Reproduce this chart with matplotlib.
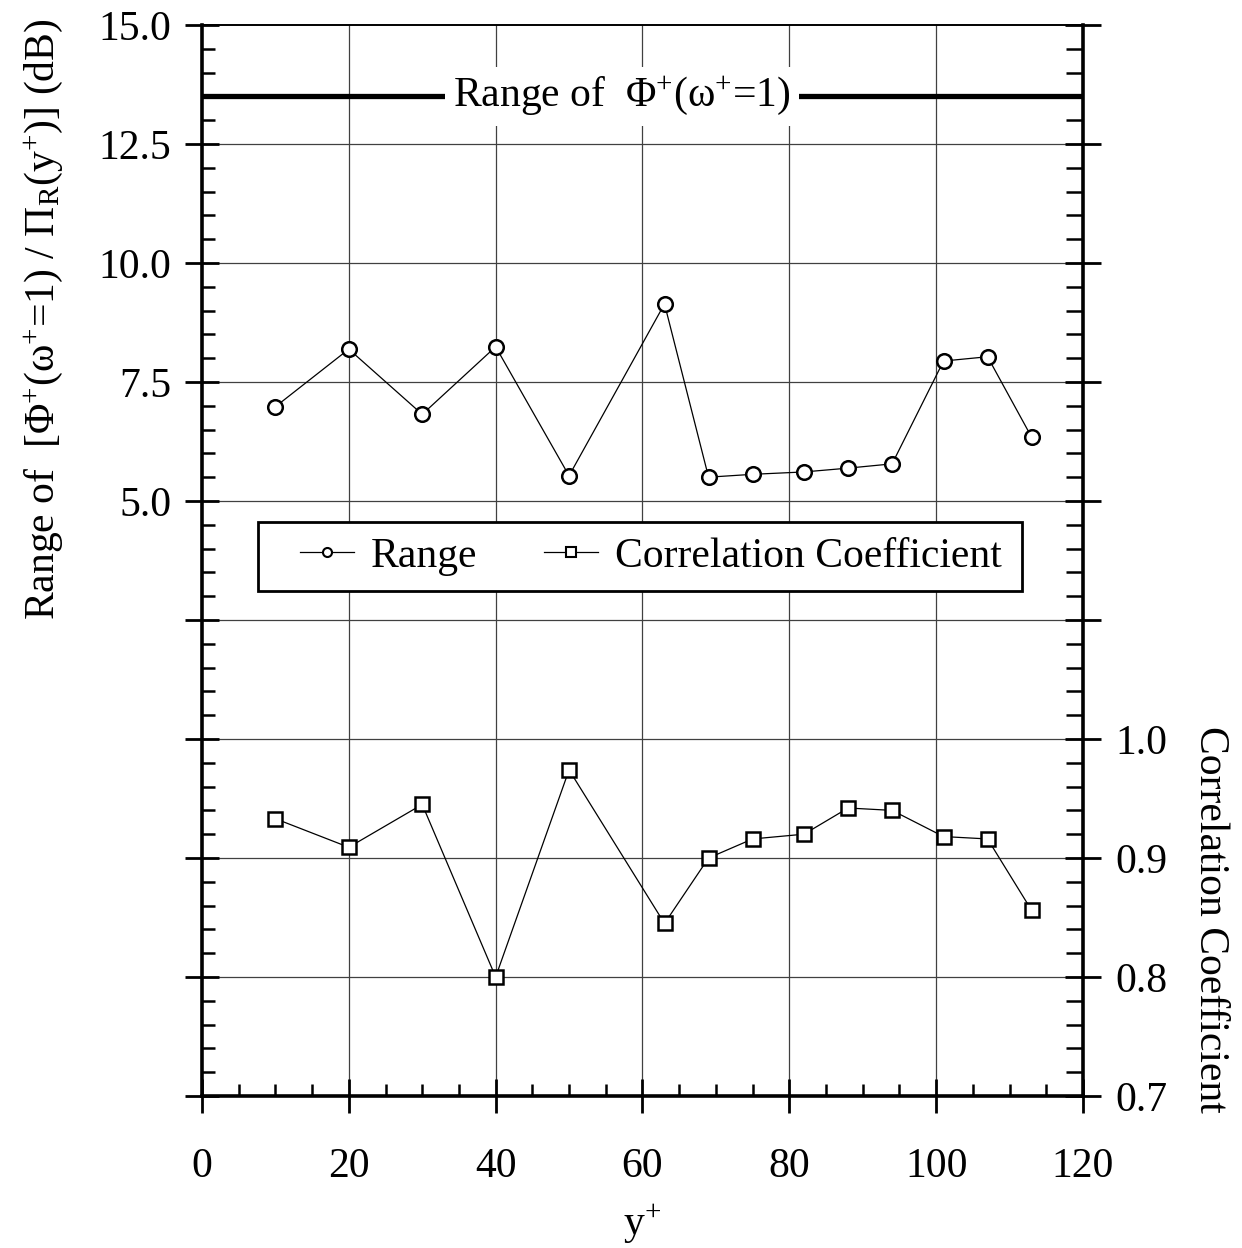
import matplotlib
matplotlib.use("Agg")
import matplotlib.pyplot as plt
from matplotlib.ticker import MultipleLocator
from matplotlib.lines import Line2D
from matplotlib.patches import Rectangle

plt.rcParams['font.family'] = ['Liberation Serif', 'DejaVu Serif']
plt.rcParams['mathtext.fontset'] = 'custom'
plt.rcParams['mathtext.rm'] = 'Liberation Serif'
plt.rcParams['mathtext.it'] = 'Liberation Serif:italic'
plt.rcParams['mathtext.default'] = 'rm'

# ---- data ----
y_plus = [10, 20, 30, 40, 50, 63, 69, 75, 82, 88, 94, 101, 107, 113]
range_db = [6.98, 8.19, 6.82, 8.24, 5.53, 9.14, 5.50, 5.56, 5.61, 5.69, 5.78, 7.94, 8.03, 6.34]
corr_coef = [0.933, 0.909, 0.945, 0.800, 0.974, 0.845, 0.900, 0.916, 0.920, 0.942, 0.940, 0.918, 0.916, 0.856]
phi_range_level = 13.5
x_ticks = [0, 20, 40, 60, 80, 100, 120]

fs = 30
fig = plt.figure(figsize=(12.42, 12.48), dpi=100)
ax = fig.add_axes([0.1626, 0.1218, 0.7094, 0.8582])
ax.set_xlim(0, 120)
ax.set_ylim(-7.5, 15)

ax2 = ax.twinx()
ax2.set_ylim(0.7, 1.6)

# grid
for gx in [20, 40, 60, 80, 100]:
    ax.axvline(gx, color='0.25', lw=0.9, zorder=0)
for gy in [-5, -2.5, 0, 2.5, 5, 7.5, 10, 12.5]:
    ax.axhline(gy, color='0.25', lw=0.9, zorder=0)

# Range of Phi line
ax.axhline(phi_range_level, color='black', lw=3.8, zorder=2)
ax.text(57.2, phi_range_level, 'Range of  \u03A6$^{+}$(\u03C9$^{+}$=1)', fontsize=fs,
        ha='center', va='center', zorder=3,
        bbox=dict(facecolor='white', edgecolor='none', pad=6))

# series
ax.plot(y_plus, range_db, color='black', lw=0.9, marker='o', ms=10.5,
        mfc='white', mec='black', mew=1.8, zorder=4)
ax2.plot(y_plus, corr_coef, color='black', lw=0.9, marker='s', ms=10.5,
         mfc='white', mec='black', mew=1.8, zorder=4)

# ticks
ax.set_xticks(x_ticks)
ax.xaxis.set_minor_locator(MultipleLocator(5))
ax.yaxis.set_major_locator(MultipleLocator(2.5))
ax.yaxis.set_minor_locator(MultipleLocator(0.5))
ax.set_yticklabels(['%.1f' % t if t >= 5 else '' for t in ax.get_yticks()])
ax2.yaxis.set_major_locator(MultipleLocator(0.1))
ax2.yaxis.set_minor_locator(MultipleLocator(0.02))
ax2.set_yticklabels(['%.1f' % t if t <= 1.001 else '' for t in ax2.get_yticks()])
ax.set_ylim(-7.5, 15)
ax2.set_ylim(0.7, 1.6)

ax.tick_params(axis='both', which='major', direction='inout', length=24, width=2.0,
               labelsize=fs)
ax.tick_params(axis='x', which='major', pad=25)
ax.tick_params(axis='y', which='major', pad=10)
ax.tick_params(axis='both', which='minor', direction='in', length=9, width=1.8)
ax2.tick_params(axis='y', which='major', direction='inout', length=26, width=2.0,
                labelsize=fs, pad=10)
ax2.tick_params(axis='y', which='minor', direction='in', length=12, width=1.8)

for sp in ['left', 'bottom']:
    ax.spines[sp].set_linewidth(2.6)
ax.spines['right'].set_visible(False)
ax.spines['top'].set_linewidth(1.2)
ax2.spines['right'].set_linewidth(2.6)
ax2.spines['top'].set_linewidth(1.2)
ax2.spines['left'].set_visible(False)
ax2.spines['bottom'].set_visible(False)

# labels
ax.set_xlabel('y$^{+}$', fontsize=fs, labelpad=12)
ax.set_ylabel('Range of  [\u03A6$^{+}$(\u03C9$^{+}$=1) / \u03A0$_{R}$(y$^{+}$)] (dB)', fontsize=fs)
ax.yaxis.set_label_coords(-0.155, 0.725)
ax2.set_ylabel('Correlation Coefficient', fontsize=fs, rotation=-90, va='bottom')
ax2.yaxis.set_label_coords(1.122, 0.165)

# legend frame (drawn as a box in axes-fraction coordinates)
frame = Rectangle((0.0636, 0.4715), 0.8672, 0.0644, transform=ax.transAxes,
                  facecolor='white', edgecolor='black', lw=2.0, zorder=5)
ax.add_patch(frame)

h1 = Line2D([], [], color='black', lw=0.9, marker='o', ms=6.5, mfc='white', mec='black', mew=1.5)
h2 = Line2D([], [], color='black', lw=0.9, marker='s', ms=6.5, mfc='white', mec='black', mew=1.5)
leg = ax.legend([h1, h2], ['Range', 'Correlation Coefficient'], ncol=2, fontsize=fs,
                loc='center left', bbox_to_anchor=(0.111, 0.5037), frameon=False,
                handlelength=1.3, handletextpad=0.4, columnspacing=1.6, borderpad=0.0,
                borderaxespad=0.0)
leg.set_zorder(6)

fig.savefig('out.png', dpi=100)
